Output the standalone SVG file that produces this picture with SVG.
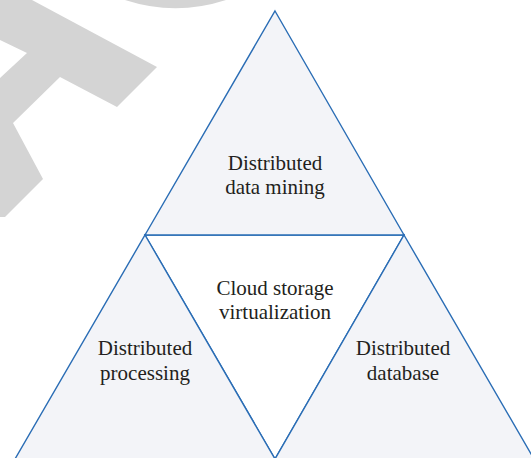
<svg xmlns="http://www.w3.org/2000/svg" width="531" height="458" viewBox="0 0 531 458">
<style>
.tri{fill:#f3f4f8;stroke:#2a6db5;stroke-width:1.4;stroke-linejoin:miter}
.ctr{fill:#ffffff;stroke:#2a6db5;stroke-width:1.4}
.lbl{font-family:"Liberation Serif","DejaVu Serif",serif;font-size:21px;fill:#231f20;text-anchor:middle}
.wm{fill:#d4d4d4}
</style>
<rect width="531" height="458" fill="#ffffff"/>
<g id="watermark">
<path class="wm" d="M125,0 A163,163 0 0 0 226,0 Z"/>
<polygon class="wm" points="0,0 32,0 157,67 117,107 60,77 13,123 43,179 5,217 0,217 0,78 27,53 0,40"/>
</g>
<g id="center">
<polygon class="ctr" points="145,235 404,235 275,459"/>
<text class="lbl" x="275" y="295">Cloud storage</text>
<text class="lbl" x="275" y="319">virtualization</text>
</g>
<g id="top">
<polygon class="tri" points="275,11 404,235 145,235"/>
<text class="lbl" x="275" y="170">Distributed</text>
<text class="lbl" x="275" y="194">data mining</text>
</g>
<g id="left">
<polygon class="tri" points="145,235 275,459 15,459"/>
<text class="lbl" x="145" y="355">Distributed</text>
<text class="lbl" x="145" y="380">processing</text>
</g>
<g id="right">
<polygon class="tri" points="404,235 534,459 275,459"/>
<text class="lbl" x="403" y="355">Distributed</text>
<text class="lbl" x="403" y="380">database</text>
</g>
<g id="connectors"></g>
</svg>
